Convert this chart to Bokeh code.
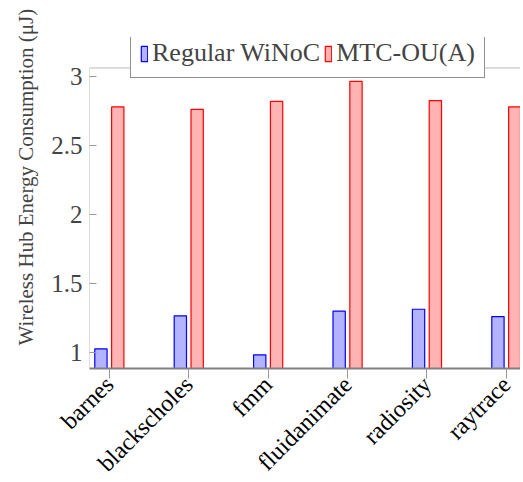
from math import pi
from bokeh.plotting import figure
from bokeh.models import (ColumnDataSource, Range1d, FixedTicker, LinearAxis,
                          Legend, LegendItem, NumeralTickFormatter, Title, BoxAnnotation)
from bokeh.transform import dodge
from bokeh.embed import file_html
from bokeh.resources import INLINE

benchmarks = ["barnes", "blackscholes", "fmm", "fluidanimate", "radiosity", "raytrace"]
regular_winoc = [1.025, 1.264, 0.981, 1.298, 1.312, 1.259]
mtc_ou_a = [2.780, 2.763, 2.820, 2.966, 2.826, 2.780]
y_ticks = [1, 1.5, 2, 2.5, 3]

# axis limits of the pgfplots axis box
x_min, x_max = -0.25, 5.25
y_min, y_max = 0.882, 3.063

FONT = "Liberation Serif"
idx = list(range(len(benchmarks)))
src = ColumnDataSource(dict(idx=idx, reg=regular_winoc, mtc=mtc_ou_a))

p = figure(frame_width=431, frame_height=331,
           x_range=Range1d(x_min, 5.178), y_range=Range1d(y_min, 3.284),
           output_backend="svg", toolbar_location=None,
           min_border_left=82, min_border_top=37, min_border_right=0,
           min_border_bottom=0, x_axis_location=None, y_axis_location=None)
p.outline_line_color = None
p.grid.visible = False
p.background_fill_color = "white"
p.border_fill_color = "white"

bw = 0.155
r1 = p.vbar(x=dodge("idx", -0.106), top="reg", bottom=0, width=bw, source=src,
            fill_color="#b3b3ff", line_color="#0000ff", line_width=1.2)
r2 = p.vbar(x=dodge("idx", 0.106), top="mtc", bottom=0, width=bw, source=src,
            fill_color="#ffb3b3", line_color="#ff0000", line_width=1.2)

# axis box (pgfplots frame)
p.add_layout(BoxAnnotation(left=x_min, right=x_max, bottom=y_min, top=y_max,
                           fill_alpha=0, line_color="#222222", line_width=1,
                           level="underlay"))

xt = FixedTicker(ticks=idx)
yt = FixedTicker(ticks=y_ticks)

bottom = LinearAxis(ticker=xt, major_label_overrides={i: b for i, b in enumerate(benchmarks)})
bottom.major_label_orientation = pi / 4
bottom.major_label_text_font = FONT
bottom.major_label_text_font_size = "24px"
bottom.major_label_text_color = "black"
bottom.major_label_standoff = 2
bottom.axis_line_color = "#808080"
bottom.axis_line_width = 2
bottom.major_tick_line_color = "#999999"
bottom.major_tick_in = 0
bottom.major_tick_out = 10
bottom.minor_tick_line_color = None
p.add_layout(bottom, "below")

left = LinearAxis(ticker=yt, formatter=NumeralTickFormatter(format="0.[0]"))
left.major_label_text_font = FONT
left.major_label_text_font_size = "25px"
left.major_label_standoff = 7
left.axis_line_color = None
left.major_tick_line_color = "#999999"
left.major_tick_in = 7
left.major_tick_out = 0
left.minor_tick_line_color = None
p.add_layout(left, "left")

ylab = Title(text="Wireless Hub Energy Consumption (μJ)", align="left", offset=23,
             text_font=FONT, text_font_size="21px", text_font_style="normal",
             standoff=22)
p.add_layout(ylab, "left")

legend = Legend(items=[LegendItem(label="Regular WiNoC", renderers=[r1]),
                       LegendItem(label="MTC-OU(A)", renderers=[r2])],
                orientation="horizontal", location=(41, 290))
legend.label_text_font = FONT
legend.label_text_font_size = "26px"
legend.glyph_width = 8
legend.glyph_height = 19
legend.label_standoff = 4
legend.spacing = 4
legend.padding = 9
legend.margin = 0
legend.label_height = 23
legend.border_line_color = "#222222"
legend.border_line_width = 1
legend.background_fill_alpha = 1
p.add_layout(legend, "center")

open("out.html", "w").write(file_html(p, INLINE))
